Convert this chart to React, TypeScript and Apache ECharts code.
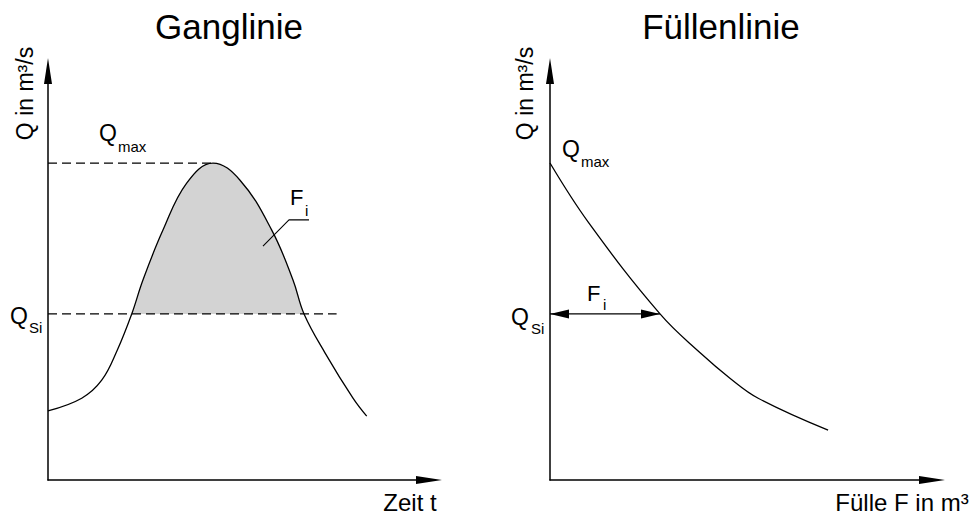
import React, { useEffect, useRef } from "react";
import * as echarts from "echarts";

// Ganglinie: Zeit t (h) und Abfluss Q (m³/s)
const zeitT = [0, 3.54, 5.64, 7.28, 8.79, 9.97, 12.07, 14.56, 17.32, 20.16, 23.49, 25.72, 26.88, 29.08, 32.02, 33.46];
const abflussQ = [16.9, 20.0, 24.4, 31.8, 40.6, 48.9, 61.1, 72.6, 77.5, 73.3, 61.1, 48.9, 40.6, 31.1, 20.0, 15.6];

// Scheitelabfluss und Schwellenabfluss
const Q_MAX = 77.5;
const T_PEAK = 17.32;
const Q_SI = 40.6;
const T_SI_END = 30.3;

// Fläche F_i oberhalb Q_Si (Abschnitt der Ganglinie zwischen den Schnittpunkten)
const fiStart = 4;
const fiEnd = 12;

// Bezugslinie zur Beschriftung F_i
const fiLeaderT = [22.57, 25.3, 27.4];
const fiLeaderQ = [57.2, 63.6, 63.6];

// Füllenlinie: Fülle F (m³) und Abfluss Q (m³/s)
const fuelleF = [0, 10.2, 28.8, 39.3, 47.1, 54.5, 72.8];
const fuelleQ = [77.5, 62.8, 40.6, 31.1, 24.9, 20.0, 12.2];
const F_I = 28.8;

const FONT = '"Liberation Sans", Arial, Helvetica, sans-serif';

const pairs = (xs: number[], ys: number[]) => xs.map((x, i) => [x, ys[i]]);

function txt(text: string, x: number, y: number, size: number, align = "left", extra: any = {}) {
  return {
    type: "text",
    x,
    y,
    silent: true,
    ...extra,
    style: {
      text,
      fontSize: size,
      fontFamily: FONT,
      fill: "#000",
      align,
      verticalAlign: "middle",
    },
  };
}

export default function App() {
  const ref = useRef<HTMLDivElement>(null);

  useEffect(() => {
    if (!ref.current) return;
    const chart = echarts.init(ref.current, undefined, { renderer: "svg" });

    const axisBase = {
      type: "value",
      splitLine: { show: false },
      axisTick: { show: false },
      axisLabel: { show: false },
      axisLine: {
        show: true,
        onZero: false,
        symbol: ["none", "triangle"],
        symbolSize: [8, 26],
        lineStyle: { color: "#000", width: 1.5 },
      },
    };

    const dashed = { color: "#000", width: 1.3, type: [9, 5] };

    chart.setOption({
      animation: false,
      backgroundColor: "#fff",
      grid: [
        { left: 48, top: 71, width: 381, height: 409 },
        { left: 550, top: 71, width: 382, height: 409 },
      ],
      xAxis: [
        { ...axisBase, gridIndex: 0, min: 0, max: 40 },
        { ...axisBase, gridIndex: 1, min: 0, max: 100 },
      ],
      yAxis: [
        { ...axisBase, gridIndex: 0, min: 0, max: 100 },
        { ...axisBase, gridIndex: 1, min: 0, max: 100 },
      ],
      series: [
        {
          name: "F_i",
          type: "line",
          xAxisIndex: 0,
          yAxisIndex: 0,
          data: pairs(zeitT.slice(fiStart, fiEnd + 1), abflussQ.slice(fiStart, fiEnd + 1)),
          smooth: 0.4,
          showSymbol: false,
          silent: true,
          lineStyle: { width: 0, opacity: 0 },
          areaStyle: { color: "#d3d3d3", opacity: 1, origin: Q_SI },
          z: 1,
        },
        {
          name: "Q_max",
          type: "line",
          xAxisIndex: 0,
          yAxisIndex: 0,
          data: [[0, Q_MAX], [T_PEAK, Q_MAX]],
          showSymbol: false,
          silent: true,
          lineStyle: dashed,
          z: 2,
        },
        {
          name: "Q_Si",
          type: "line",
          xAxisIndex: 0,
          yAxisIndex: 0,
          data: [[0, Q_SI], [T_SI_END, Q_SI]],
          showSymbol: false,
          silent: true,
          lineStyle: dashed,
          z: 2,
        },
        {
          name: "Ganglinie",
          type: "line",
          xAxisIndex: 0,
          yAxisIndex: 0,
          data: pairs(zeitT, abflussQ),
          smooth: 0.4,
          showSymbol: false,
          silent: true,
          lineStyle: { color: "#000", width: 1.3 },
          z: 3,
        },
        {
          name: "Bezug F_i",
          type: "line",
          xAxisIndex: 0,
          yAxisIndex: 0,
          data: pairs(fiLeaderT, fiLeaderQ),
          showSymbol: false,
          silent: true,
          lineStyle: { color: "#000", width: 1.1 },
          z: 4,
        },
        {
          name: "Füllenlinie",
          type: "line",
          xAxisIndex: 1,
          yAxisIndex: 1,
          data: pairs(fuelleF, fuelleQ),
          smooth: 0.4,
          showSymbol: false,
          silent: true,
          lineStyle: { color: "#000", width: 1.3 },
          z: 3,
        },
        {
          name: "F_i Pfeil",
          type: "custom",
          xAxisIndex: 1,
          yAxisIndex: 1,
          silent: true,
          data: [[0, F_I, Q_SI]],
          encode: { x: [0, 1], y: 2 },
          renderItem: (_params: any, api: any) => {
            const a = api.coord([api.value(0), api.value(2)]);
            const b = api.coord([api.value(1), api.value(2)]);
            const L = 19;
            const H = 4.5;
            return {
              type: "group",
              children: [
                {
                  type: "line",
                  shape: { x1: a[0], y1: a[1], x2: b[0], y2: b[1] },
                  style: { stroke: "#000", lineWidth: 1.2 },
                },
                {
                  type: "polygon",
                  shape: { points: [[a[0], a[1]], [a[0] + L, a[1] - H], [a[0] + L, a[1] + H]] },
                  style: { fill: "#000" },
                },
                {
                  type: "polygon",
                  shape: { points: [[b[0], b[1]], [b[0] - L, b[1] - H], [b[0] - L, b[1] + H]] },
                  style: { fill: "#000" },
                },
              ],
            };
          },
          z: 4,
        },
      ],
      graphic: [
        txt("Ganglinie", 229, 26.4, 35, "center"),
        txt("Füllenlinie", 721, 26.4, 35, "center"),
        txt("Q in m³/s", 25, 93.5, 23, "center", { rotation: Math.PI / 2 }),
        txt("Q in m³/s", 525, 93.5, 23, "center", { rotation: Math.PI / 2 }),
        txt("Zeit t", 410, 502, 24, "center"),
        txt("Fülle F in m³", 902, 502, 24, "center"),
        txt("Q", 99, 133, 23),
        txt("max", 118, 146.8, 15),
        txt("Q", 10, 316, 23),
        txt("Si", 29, 327.8, 15),
        txt("F", 290, 197.3, 22),
        txt("i", 305, 210.8, 15),
        txt("Q", 562, 149, 23),
        txt("max", 581, 161.8, 15),
        txt("Q", 511, 317, 23),
        txt("Si", 531, 328.8, 15),
        txt("F", 587, 293.3, 22),
        txt("i", 603, 304.8, 15),
      ],
    });

    return () => chart.dispose();
  }, []);

  return (
    <div
      ref={ref}
      style={{ position: "fixed", left: 0, top: 0, width: 971, height: 515, background: "#fff" }}
    />
  );
}
